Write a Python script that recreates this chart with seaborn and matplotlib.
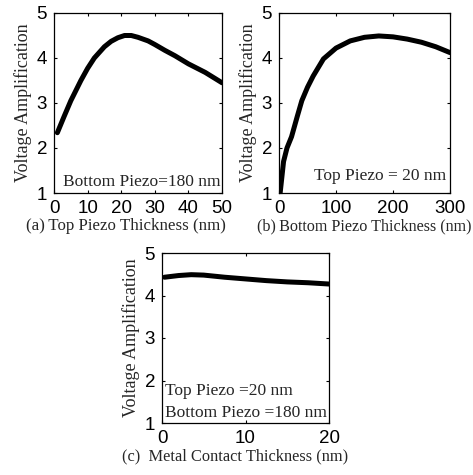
import matplotlib
matplotlib.use("Agg")
import matplotlib.pyplot as plt
import seaborn as sns
import pandas as pd

# Panel (a): Top piezo thickness sweep
a_x = [1, 3, 5, 8, 10, 12, 15, 17, 19, 21, 23, 25, 28, 30, 33, 36, 40, 45, 50]
a_y = [2.34, 2.7, 3.05, 3.5, 3.77, 4.0, 4.25, 4.37, 4.45, 4.5, 4.5, 4.46, 4.38, 4.3, 4.17, 4.05, 3.87, 3.68, 3.45]
# Panel (b): Bottom piezo thickness sweep
b_x = [2, 5, 8, 14, 22, 32, 40, 50, 60, 78, 100, 125, 150, 175, 200, 225, 250, 275, 300]
b_y = [1.0, 1.35, 1.7, 2.0, 2.25, 2.7, 3.05, 3.35, 3.6, 3.98, 4.22, 4.38, 4.46, 4.49, 4.47, 4.42, 4.35, 4.25, 4.12]
# Panel (c): Metal contact thickness sweep
c_x = [0.3, 2, 3.5, 5, 7.5, 10, 12.5, 15, 17.5, 20]
c_y = [4.43, 4.47, 4.49, 4.48, 4.43, 4.39, 4.35, 4.32, 4.3, 4.27]

a_xticks = [0, 10, 20, 30, 40, 50]
b_xticks = [0, 100, 200, 300]
c_xticks = [0, 10, 20]
yticks = [1, 2, 3, 4, 5]

a_xlabel = "(a)\u2009Top Piezo Thickness (nm)"
b_xlabel = "(b)\u2009Bottom Piezo Thickness (nm)"
c_xlabel = "(c)  Metal Contact Thickness (nm)"
ylabel = "Voltage Amplification"

sns.set_style("ticks")
plt.rcParams['font.family'] = ['Liberation Sans', 'DejaVu Sans']

SERIF = ['Liberation Serif', 'DejaVu Serif']
W, H = 473, 475
fig = plt.figure(figsize=(W / 100, H / 100), dpi=100)


def make_ax(l, t, r, b):
    return fig.add_axes([l / W, 1 - b / H, (r - l) / W, (b - t) / H])


def style(ax, xs, ys, xticks, xlim, xlabel, xlsize, xlab_x=0.5):
    df = pd.DataFrame({"x": xs, "y": ys})
    sns.lineplot(data=df, x="x", y="y", ax=ax, color="black", linewidth=3.6)
    ax.set_xlim(*xlim)
    ax.set_ylim(1, 5)
    ax.set_xticks(xticks)
    ax.set_yticks(yticks)
    ax.tick_params(direction="in", length=2.5, width=0.8, top=True, right=True,
                   labelsize=13.5, pad=5, colors="black")
    for s in ax.spines.values():
        s.set_linewidth(0.9)
        s.set_color("black")
    ax.set_xlabel(xlabel, family=SERIF, fontsize=xlsize, labelpad=1)
    ax.xaxis.label.set_x(xlab_x)
    ax.set_ylabel(ylabel, family=SERIF, fontsize=13, labelpad=3)


ax1 = make_ax(54, 13, 222, 193)
style(ax1, a_x, a_y, a_xticks, (0, 50), a_xlabel, 12.2, 0.43)
ax1.text(0.055, 0.04, "Bottom Piezo=180 nm", transform=ax1.transAxes,
         family=SERIF, fontsize=12.5, ha="left", va="baseline")

ax2 = make_ax(279, 13, 450, 193)
style(ax2, b_x, b_y, b_xticks, (0, 300), b_xlabel, 11.6)
ax2.text(0.975, 0.07, "Top Piezo = 20 nm", transform=ax2.transAxes,
         family=SERIF, fontsize=12.5, ha="right", va="baseline")

ax3 = make_ax(162, 253, 329, 423)
style(ax3, c_x, c_y, c_xticks, (0, 20), c_xlabel, 11.8, 0.44)
ax3.text(0.02, 0.165, "Top Piezo =20 nm", transform=ax3.transAxes,
         family=SERIF, fontsize=12.5, ha="left", va="baseline")
ax3.text(0.02, 0.035, "Bottom Piezo =180 nm", transform=ax3.transAxes,
         family=SERIF, fontsize=12.5, ha="left", va="baseline")

fig.savefig("out.png", dpi=100)
